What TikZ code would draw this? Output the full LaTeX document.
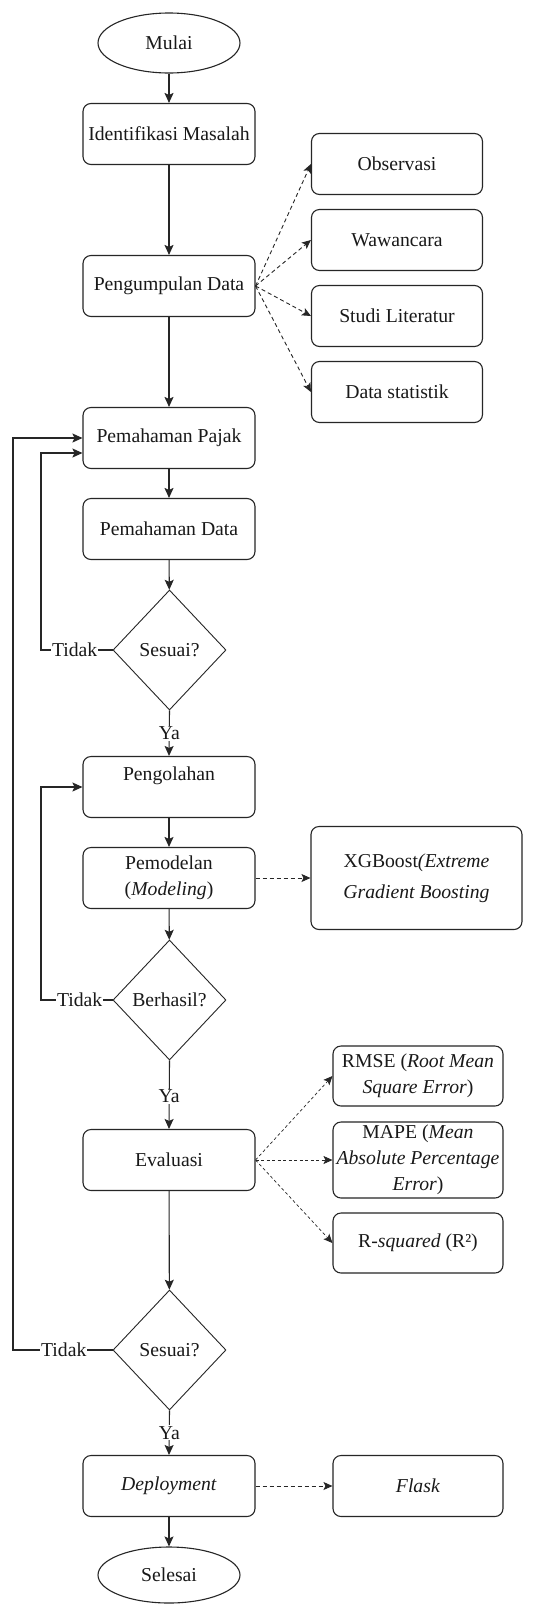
\documentclass[tikz,border=0pt]{standalone}
\usepackage{fontspec}
\setmainfont{Liberation Serif}
\usetikzlibrary{shapes.geometric,arrows.meta,calc}
\begin{document}
\begin{tikzpicture}[x=1pt,y=-1pt,
  font=\fontsize{19.7}{26}\selectfont,
  box/.style={draw=black!85, rounded corners=8pt, minimum width=172pt, minimum height=61pt, inner sep=0pt, align=center, line width=1.1pt, text=black!90},
  sbox/.style={box, minimum width=171pt},
  term/.style={draw=black!85, ellipse, minimum width=142pt, minimum height=60pt, inner sep=0pt, line width=1.1pt, text=black!90},
  dec/.style={draw=black!85, diamond, minimum width=113pt, minimum height=120pt, inner sep=0pt, line width=0.9pt, text=black!90},
  arr/.style={draw=black!85, line width=1.1pt, -{Stealth[length=10pt,width=9pt,inset=2pt]}},
  darr/.style={draw=black!85, line width=0.9pt, dash pattern=on 4pt off 3pt, -{Stealth[length=9pt,width=8pt,inset=2pt]}},
  farr/.style={draw=black!85, line width=0.7pt, dash pattern=on 3pt off 2.5pt, -{Stealth[length=9pt,width=8pt,inset=2pt]}},
  lbl/.style={fill=white, inner sep=1pt, text=black!90},
]
\fill[white] (0,0) rectangle (559,1604);
\useasboundingbox (0,0) rectangle (559,1604);

% main column
\node[term] (mulai) at (169,43) {Mulai};
\node[box] (idm) at (169,134) {Identifikasi Masalah};
\node[box] (pd) at (169,286) {Pengumpulan Data};
\node[box] (pj) at (169,438) {Pemahaman Pajak};
\node[box] (pdata) at (169,529) {Pemahaman Data};
\node[dec] (d1) at (169.5,650) {Sesuai?};
\node[box] (peng) at (169,787) {Pengolahan\\~};
\node[box] (pmod) at (169,878) {Pemodelan\\(\textit{Modeling})};
\node[dec] (d2) at (169.5,1000) {Berhasil?};
\node[box] (eval) at (169,1160) {Evaluasi};
\node[dec] (d3) at (169.5,1350) {Sesuai?};
\node[box] (depl) at (169,1486) {\textit{Deployment}};
\node[term, minimum height=56pt] (selesai) at (169,1575) {Selesai};

% side boxes
\node[sbox] (obs) at (397,164) {Observasi};
\node[sbox] (waw) at (397,240) {Wawancara};
\node[sbox] (studi) at (397,316) {Studi Literatur};
\node[sbox] (dstat) at (397,392) {Data statistik};
\node[box, minimum width=211pt, minimum height=103pt, font=\fontsize{19.7}{31}\selectfont] (xgb) at (416.5,878) {XGBoost\textit{(Extreme}\\\textit{Gradient Boosting}};
\node[box, minimum width=170pt, minimum height=60pt] (rmse) at (418,1076) {RMSE (\textit{Root Mean}\\\textit{Square Error})};
\node[box, minimum width=170pt, minimum height=76pt] (mape) at (418,1160) {MAPE (\textit{Mean}\\\textit{Absolute Percentage}\\\textit{Error})};
\node[box, minimum width=170pt, minimum height=60pt] (rsq) at (418,1243) {R-\textit{squared} (R²)};
\node[box, minimum width=170pt] (flask) at (418,1486) {\textit{Flask}};

% loop x positions
\coordinate (lxin) at (41,0);
\coordinate (lxout) at (13,0);

% main flow
\draw[arr] (mulai) -- (idm);
\draw[arr] (idm) -- (pd);
\draw[arr] (pd) -- (pj);
\draw[arr] (pj) -- (pdata);
\draw[arr] (pdata) -- (d1);
\draw[arr] (d1.south) -- node[lbl, pos=0.5] {Ya} (peng.north);
\draw[arr] (peng) -- (pmod);
\draw[arr] (pmod) -- (d2);
\draw[arr] (d2.south) -- node[lbl, pos=0.52] {Ya} (eval.north);
\draw[arr] (eval) -- (d3);
\draw[arr] (d3.south) -- node[lbl, pos=0.5] {Ya} (depl.north);
\draw[arr] (depl) -- (selesai);

% loops
\draw[arr] (d1.west) -- node[lbl, pos=0.53] {Tidak} (d1.west -| lxin) |- ($(pj.west)+(0,15)$);
\draw[arr] (d2.west) -- node[lbl, pos=0.46] {Tidak} (d2.west -| lxin) |- (peng.west);
\draw[arr] (d3.west) -- node[lbl, pos=0.49] {Tidak} (d3.west -| lxout) |- (pj.west);

% dashed
\draw[darr] (pd.east) -- (obs.west);
\draw[darr] (pd.east) -- (waw.west);
\draw[darr] (pd.east) -- (studi.west);
\draw[darr] (pd.east) -- (dstat.west);
\draw[darr] (pmod.east) -- (xgb.west);
\draw[farr] (eval.east) -- (rmse.west);
\draw[farr] (eval.east) -- (mape.west);
\draw[farr] (eval.east) -- (rsq.west);
\draw[darr] (depl.east) -- (flask.west);
\end{tikzpicture}
\end{document}
